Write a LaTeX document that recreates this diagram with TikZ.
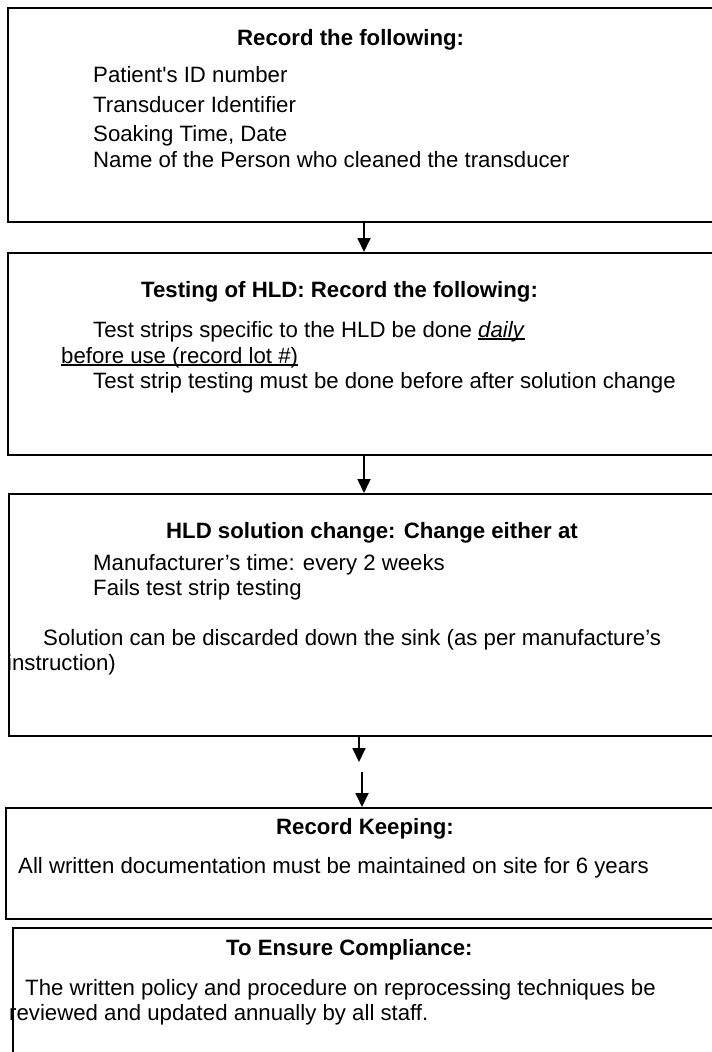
\documentclass[tikz,border=0pt]{standalone}
\usepackage{fontspec}
\setmainfont{Liberation Sans}
\newcommand\myul[1]{\setbox0\hbox{#1}\rlap{\rule[-2.6pt]{\wd0}{1.3pt}}\box0}
\usetikzlibrary{arrows.meta}
\tikzset{
  box/.style={draw=black, line width=1.6pt, anchor=north west, inner sep=0pt},
  txt/.style={anchor=base west, inner sep=0pt, font=\fontsize{22.2}{26}\selectfont},
  ttl/.style={anchor=base west, inner sep=0pt, font=\fontsize{22.2}{26}\selectfont\bfseries},
  arr/.style={line width=1.8pt, -{Triangle[length=14pt,width=13pt]}}
}
\begin{document}
\begin{tikzpicture}[x=1pt,y=-1pt]
\useasboundingbox (0,0) rectangle (712,1052);
\clip (0,0) rectangle (712,1052);
% boxes
\node[box, minimum width=740pt, minimum height=214pt] (b1) at (7,7) {};
\node[box, minimum width=740pt, minimum height=202pt] (b2) at (7,252) {};
\node[box, minimum width=740pt, minimum height=242pt] (b3) at (8,493) {};
\node[box, minimum width=740pt, minimum height=111pt] (b4) at (5,807) {};
\node[box, minimum width=740pt, minimum height=160pt] (b5) at (12,927) {};
% arrow positions
\coordinate (c1) at (364,0);
\coordinate (c2) at (364,0);
\coordinate (c3) at (359,0);
\coordinate (c4) at (362,0);
\coordinate (e3) at (359,762);
\coordinate (s4) at (362,772);
\draw[arr] (c1 |- b1.south) -- (c1 |- b2.north);
\draw[arr] (c2 |- b2.south) -- (c2 |- b3.north);
\draw[arr] (c3 |- b3.south) -- (e3);
\draw[arr] (s4) -- (c4 |- b4.north);
% box 1 text
\node[ttl] (t1) at (237,45) {Record the following:};
\node[txt] (l11) at (93,82) {Patient\textquotesingle s ID number};
\node[txt] (l12) at (93,112) {Transducer Identifier};
\node[txt] (l13) at (93,141) {Soaking Time, Date};
\node[txt] (l14) at (93,167) {Name of the Person who cleaned the transducer};
% box 2 text
\node[ttl] (t2) at (141,297) {Testing of HLD: Record the following:};
\node[txt] (l21) at (93,337) {Test strips specific to the HLD be done \myul{\textit{daily}}};
\node[txt] (l22) at (61,363) {\myul{before use (record lot \#)}};
\node[txt] (l23) at (93,388) {Test strip testing must be done before after solution change};
% box 3 text
\node[ttl] (t3) at (166,538) {HLD solution change: Change either at};
\node[txt] (l31) at (93,570) {Manufacturer’s time: every 2 weeks};
\node[txt] (l32) at (93,595) {Fails test strip testing};
\node[txt] (l33) at (43,645) {Solution can be discarded down the sink (as per manufacture’s};
\node[txt] (l34) at (7,670) {instruction)};
% box 4 text
\node[ttl] (t4) at (276,834) {Record Keeping:};
\node[txt] (l41) at (18,873) {All written documentation must be maintained on site for 6 years};
% box 5 text
\node[ttl] (t5) at (226,955) {To Ensure Compliance:};
\node[txt] (l51) at (25,995) {The written policy and procedure on reprocessing techniques be};
\node[txt] (l52) at (9,1020) {reviewed and updated annually by all staff.};
\end{tikzpicture}
\end{document}
